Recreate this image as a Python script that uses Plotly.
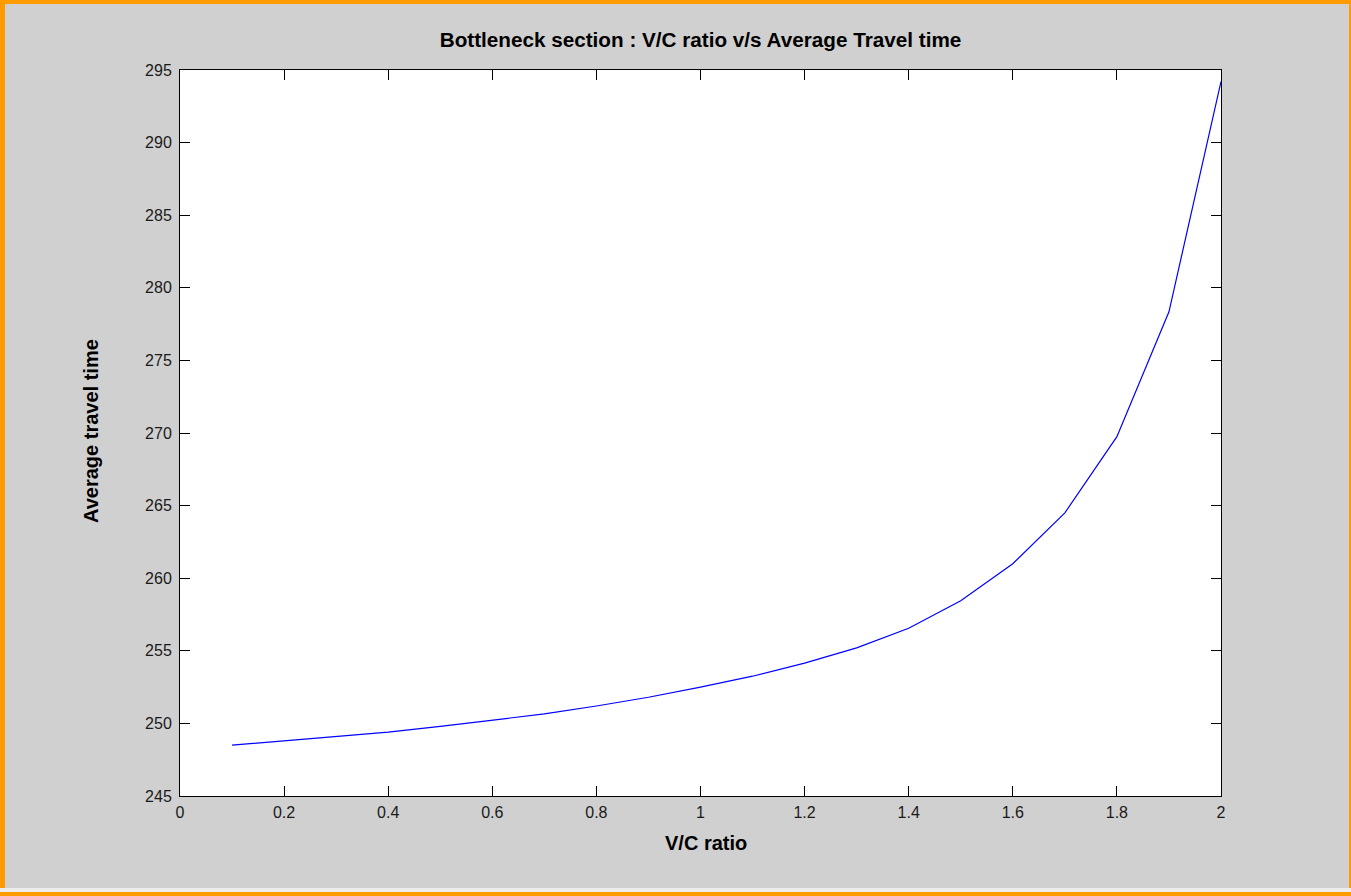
import plotly.graph_objects as go

# V/C ratio vs average travel time through the bottleneck section
vc_ratio = [0.1, 0.2, 0.3, 0.4, 0.5, 0.6, 0.7, 0.8, 0.9, 1.0,
            1.1, 1.2, 1.3, 1.4, 1.5, 1.6, 1.7, 1.8, 1.9, 2.0]
avg_travel_time = [248.5, 248.8, 249.1, 249.4, 249.8, 250.25, 250.65, 251.2, 251.8, 252.5,
                   253.25, 254.15, 255.2, 256.55, 258.45, 261.0, 264.5, 269.75, 278.35, 294.2]

x_tick_vals = [0, 0.2, 0.4, 0.6, 0.8, 1.0, 1.2, 1.4, 1.6, 1.8, 2.0]
x_tick_text = ["0", "0.2", "0.4", "0.6", "0.8", "1", "1.2", "1.4", "1.6", "1.8", "2"]
y_tick_vals = [245, 250, 255, 260, 265, 270, 275, 280, 285, 290, 295]
y_tick_text = ["245", "250", "255", "260", "265", "270", "275", "280", "285", "290", "295"]

title_text = "Bottleneck section : V/C ratio v/s Average Travel time"
x_title = "V/C ratio"
y_title = "Average travel time"

W, H = 1351, 896
L, R, T, B = 180, 130, 70, 100
plot_w = W - L - R
plot_h = H - T - B

FIG_BG = "#d0d0d0"
FRAME = "#ff9b00"
FONT = "Liberation Sans, Arial, sans-serif"


def px_x(p):
    return (p - L) / plot_w


def px_y(p):
    return (H - B - p) / plot_h


fig = go.Figure()
fig.add_trace(go.Scatter(
    x=vc_ratio, y=avg_travel_time, mode="lines",
    line=dict(color="#0000ff", width=1.2),
    showlegend=False, hoverinfo="x+y",
))

axis_common = dict(
    showgrid=False, zeroline=False, showline=True, linecolor="#000000", linewidth=1,
    ticks="inside", ticklen=10, tickwidth=1, tickcolor="#000000", mirror="ticks",
    tickfont=dict(family=FONT, size=16, color="#1a1a1a"),
)

fig.update_xaxes(range=[0, 2], tickmode="array", tickvals=x_tick_vals,
                 ticktext=x_tick_text, ticklabelstandoff=2, **axis_common)
fig.update_yaxes(range=[245, 295], tickmode="array", tickvals=y_tick_vals,
                 ticktext=y_tick_text, ticklabelstandoff=4, **axis_common)

# Window frame around the figure
frame_rects = [
    (0, 0, W, 4, FRAME),
    (0, 0, 5, H, FRAME),
    (W - 2, 0, W, H, FRAME),
    (0, 888, W, 892, "#ececec"),
    (0, 892, W, H, FRAME),
]
shapes = []
for x0, y0, x1, y1, col in frame_rects:
    shapes.append(dict(type="rect", xref="paper", yref="paper",
                       x0=px_x(x0), x1=px_x(x1), y0=px_y(y1), y1=px_y(y0),
                       fillcolor=col, line=dict(width=0), layer="above"))

annotations = [
    dict(text=x_title, xref="paper", yref="paper", x=px_x(706), y=px_y(843),
         xanchor="center", yanchor="middle", showarrow=False,
         font=dict(family=FONT, size=20, color="#000000", weight="bold")),
    dict(text=y_title, xref="paper", yref="paper", x=px_x(91), y=px_y(431),
         xanchor="center", yanchor="middle", showarrow=False, textangle=-90,
         font=dict(family=FONT, size=20, color="#000000", weight="bold")),
]

fig.update_layout(
    width=W, height=H,
    margin=dict(l=L, r=R, t=T, b=B),
    paper_bgcolor=FIG_BG, plot_bgcolor="#ffffff",
    title=dict(text=title_text, x=(L + plot_w / 2) / W, xanchor="center",
               y=1 - 40 / H, yanchor="middle", yref="container", xref="container",
               font=dict(family=FONT, size=20.7, color="#000000", weight="bold")),
    shapes=shapes, annotations=annotations,
)

fig.write_html("out.html", config={"displayModeBar": False})
